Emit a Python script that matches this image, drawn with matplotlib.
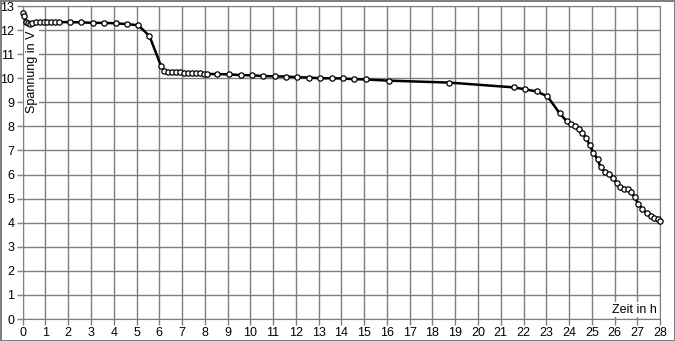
import matplotlib
matplotlib.use("Agg")
import matplotlib.pyplot as plt

plt.rcParams['font.family'] = ['Liberation Sans', 'DejaVu Sans']

# Zeit in h
zeit = [0.03, 0.05, 0.15, 0.25, 0.33, 0.42, 0.58, 0.75, 0.92, 1.08, 1.25, 1.42, 1.58,
        2.08, 2.58, 3.08, 3.58, 4.08, 4.57, 5.08, 5.57, 6.08,
        6.2, 6.38, 6.55, 6.73, 6.9, 7.07, 7.25, 7.42, 7.6, 7.77, 7.95, 8.08,
        8.55, 9.07, 9.57, 10.08, 10.57, 11.07, 11.57, 12.07, 12.57, 13.07,
        13.57, 14.07, 14.57, 15.07, 16.07, 18.73, 21.57, 22.07, 22.57, 23.05,
        23.58, 23.89, 24.08, 24.26, 24.42, 24.58, 24.74, 24.9, 25.07, 25.25,
        25.38, 25.57, 25.75, 25.92, 26.1, 26.24, 26.42, 26.59, 26.74, 26.89,
        27.03, 27.22, 27.41, 27.59, 27.75, 27.9, 28.0]
# Spannung in V
spannung = [12.7, 12.6, 12.35, 12.28, 12.25, 12.3, 12.33, 12.33, 12.33, 12.33, 12.33, 12.33, 12.33,
            12.33, 12.32, 12.3, 12.3, 12.28, 12.25, 12.2, 11.75, 10.5,
            10.3, 10.27, 10.26, 10.25, 10.24, 10.23, 10.22, 10.22, 10.21, 10.2, 10.19, 10.18,
            10.17, 10.16, 10.13, 10.12, 10.09, 10.08, 10.07, 10.04, 10.03, 10.0,
            10.0, 9.99, 9.96, 9.95, 9.9, 9.82, 9.62, 9.54, 9.45, 9.25,
            8.55, 8.22, 8.1, 8.0, 7.88, 7.74, 7.52, 7.24, 6.91, 6.63,
            6.31, 6.12, 6.01, 5.84, 5.66, 5.49, 5.41, 5.39, 5.26, 5.05,
            4.78, 4.58, 4.39, 4.28, 4.21, 4.14, 4.06]

grau = '#7f7f7f'

fig = plt.figure(figsize=(6.75, 3.41), dpi=100)
fig.patch.set_edgecolor(grau)
fig.patch.set_linewidth(2)
ax = fig.add_axes([0.0336, 0.0645, 0.9444, 0.9179])

ax.plot(zeit, spannung, color='black', lw=1.8, marker='o', ms=3.8,
        mfc='white', mec='black', mew=0.9, clip_on=False, zorder=3)

ax.set_xlim(0, 28)
ax.set_ylim(0, 13)
ax.set_xticks(range(0, 29))
ax.set_yticks(range(0, 14))
ax.grid(True, color=grau, lw=1)
ax.set_axisbelow(True)
for s in ax.spines.values():
    s.set_color(grau)
ax.tick_params(colors=grau, length=4, width=1, labelcolor='black', labelsize=9, pad=2)

ax.text(0.39, 11.97, 'Spannung in V', rotation=90, ha='center', va='top', fontsize=9,
        bbox=dict(facecolor='white', edgecolor='none', pad=1), zorder=2)
ax.text(27.87, 0.38, 'Zeit in h', ha='right', va='center', fontsize=9,
        bbox=dict(facecolor='white', edgecolor='none', pad=1), zorder=2)

fig.savefig('out.png', dpi=100, edgecolor=grau)
